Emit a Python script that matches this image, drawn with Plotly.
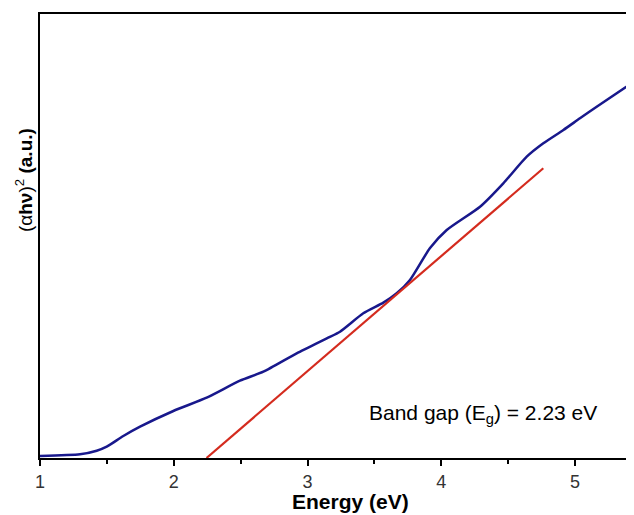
import plotly.graph_objects as go

# Blue curve: (alpha h nu)^2 vs energy (eV), arbitrary units
energy = [1.000, 1.299, 1.424, 1.499, 1.623, 1.748, 1.997, 2.246, 2.495, 2.670,
          2.919, 3.144, 3.243, 3.417, 3.567, 3.667, 3.766, 3.916, 4.041, 4.290,
          4.464, 4.639, 4.763, 4.913, 5.037, 5.162, 5.441]
absorb = [0.45, 0.83, 1.64, 2.55, 4.95, 7.05, 10.59, 13.58, 17.41, 19.44,
          23.58, 26.96, 28.45, 32.59, 34.98, 37.09, 40.09, 47.3, 51.35, 56.6,
          61.87, 67.86, 70.88, 73.87, 76.51, 79.12, 84.75]

# Red linear fit (Tauc extrapolation)
fit_x = [2.245, 4.763]
fit_y = [0.0, 65.25]

x_ticks = [1, 2, 3, 4, 5]
minor_ticks = [1.5, 2.5, 3.5, 4.5]
annotation_text = "Band gap (E<sub>g</sub>) = 2.23 eV"

fig = go.Figure()
fig.add_trace(go.Scatter(x=energy, y=absorb, mode="lines",
                         line=dict(color="#18188c", width=2.5, shape="spline", smoothing=0.6),
                         showlegend=False, hoverinfo="skip"))
fig.add_trace(go.Scatter(x=fit_x, y=fit_y, mode="lines", line=dict(color="#d42b1e", width=2.2),
                         showlegend=False, hoverinfo="skip"))

# page body has an 8px default margin; compensate in size/margins
fig.update_layout(
    width=626, height=507,
    margin=dict(l=32, r=0, t=6, b=57),
    paper_bgcolor="white", plot_bgcolor="white",
    font=dict(family="Liberation Sans, Arial, sans-serif", color="#222"),
    xaxis=dict(range=[1, 5.441], tickvals=x_ticks, ticks="outside", ticklen=6, tickwidth=2,
               tickcolor="black", showline=True, linecolor="black", linewidth=2, mirror=True,
               showgrid=False, zeroline=False, tickfont=dict(size=18, color="#333"),
               automargin=False,
               minor=dict(tickvals=minor_ticks, ticks="outside", ticklen=4, tickwidth=2, tickcolor="black")),
    yaxis=dict(range=[0, 100], showticklabels=False, ticks="", showline=True, linecolor="black",
               linewidth=2, mirror=False, showgrid=False, zeroline=False, automargin=False),
    annotations=[
        dict(text=annotation_text, x=4.312, y=9.9, xref="x", yref="y", showarrow=False,
             font=dict(size=21, color="black"), xanchor="center", yanchor="middle"),
        dict(text="<b>Energy (eV)</b>", x=0, xshift=310, y=-0.099, xref="paper", yref="paper",
             showarrow=False, font=dict(size=21, color="black"), xanchor="center", yanchor="middle"),
        dict(text="(α<b>hν</b>)<sup>2</sup> <b>(a.u.)</b>", x=0, xshift=-16, y=0.626,
             xref="paper", yref="paper", showarrow=False, textangle=-90,
             font=dict(size=19, color="black"), xanchor="center", yanchor="middle"),
    ],
)

fig.write_html("out.html")
